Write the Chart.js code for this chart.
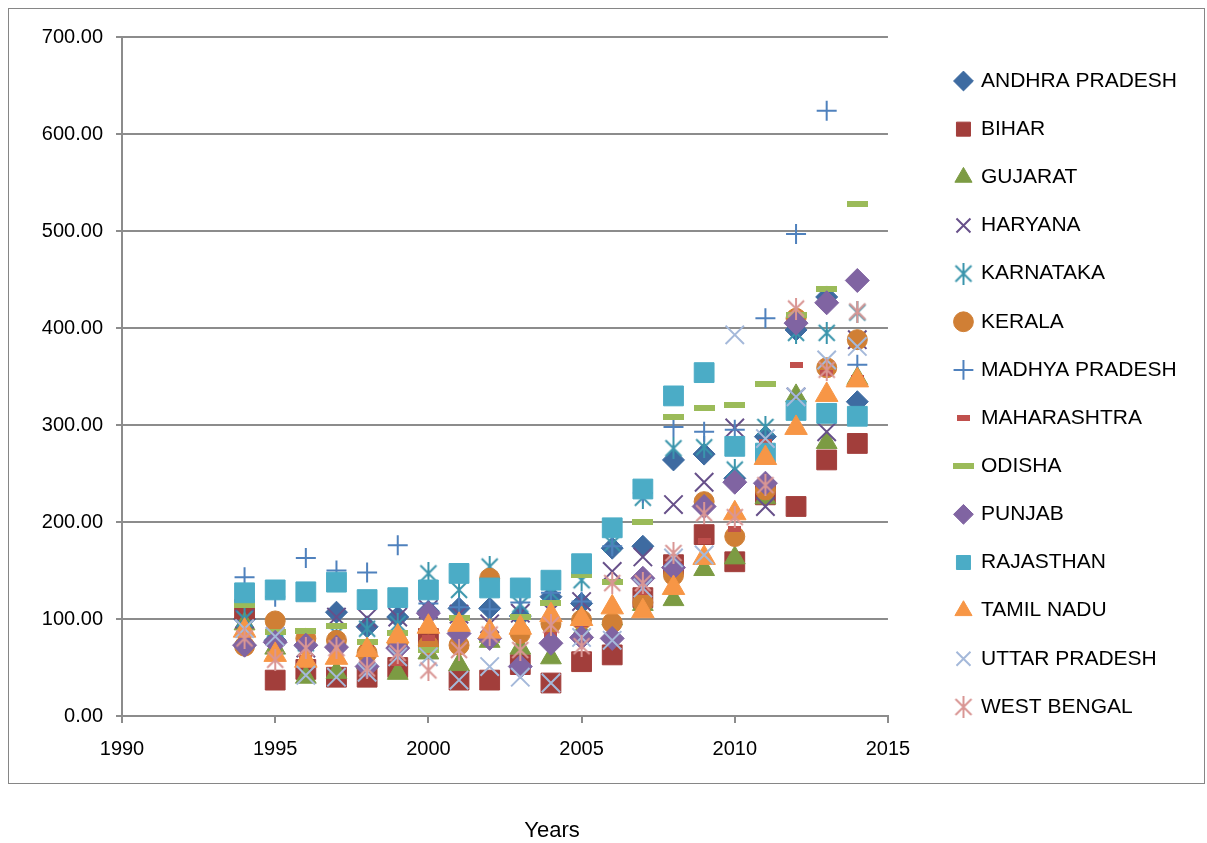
<!DOCTYPE html>
<html>
<head>
<meta charset="utf-8">
<title>States - Years</title>
<script src="https://cdn.jsdelivr.net/npm/chart.js@4"></script>
<style>
  html, body { margin: 0; padding: 0; background: #fff; }
  #wrap { position: relative; width: 1207px; height: 843px; }
</style>
</head>
<body>
<div id="wrap"><canvas id="chart"></canvas></div>
<script>
// years on the x axis
const years = [1994, 1995, 1996, 1997, 1998, 1999, 2000, 2001, 2002, 2003, 2004,
               2005, 2006, 2007, 2008, 2009, 2010, 2011, 2012, 2013, 2014];

// values, one list per state
const andhraPradesh = [100, 78, 72, 107, 92, 102, 108, 111, 111, 103, 123, 116, 173, 175, 264, 270, 245, 288, 398, 432, 324];
const bihar         = [110, 37, 48, 40, 40, 50, 80, 37, 37, 53, 34, 56, 63, 122, 156, 187, 159, 228, 216, 264, 281];
const gujarat       = [95, 70, 40, 45, 55, 44, 65, 53, 77, 70, 60, 87, 100, 115, 120, 151, 163, 225, 330, 282, 348];
const haryana       = [100, 82, 70, 102, 101, 102, 110, 105, 95, 106, 108, 118, 149, 164, 218, 241, 297, 216, 329, 293, 388];
const karnataka     = [100, 90, 75, 85, 90, 95, 147, 130, 154, 115, 127, 140, 178, 225, 276, 277, 254, 298, 395, 395, 416];
const kerala        = [72, 98, 80, 78, 65, 75, 73, 73, 142, 85, 95, 99, 96, 117, 145, 221, 185, 233, 410, 359, 388];
const madhyaPradesh = [143, 123, 163, 150, 148, 176, 116, 112, 110, 117, 127, 118, 175, 230, 298, 293, 295, 410, 497, 624, 362];
const maharashtra   = [84, 75, 60, 65, 70, 55, 80, 90, 85, 88, 84, 95, 111, 128, 150, 180, 193, 282, 362, 354, 348];
const odisha        = [114, 87, 88, 93, 76, 86, 68, 101, 78, 102, 116, 145, 138, 200, 308, 318, 321, 342, 413, 440, 528];
const punjab        = [73, 76, 73, 71, 51, 70, 106, 85, 80, 51, 75, 81, 80, 142, 153, 216, 241, 240, 405, 426, 449];
const rajasthan     = [127, 130, 128, 138, 120, 122, 130, 147, 132, 132, 140, 157, 194, 234, 330, 354, 278, 271, 315, 312, 309];
const tamilNadu     = [88, 63, 57, 60, 68, 82, 92, 94, 87, 91, 104, 100, 112, 108, 132, 163, 209, 266, 297, 331, 346];
const uttarPradesh  = [90, 82, 42, 40, 45, 61, 61, 37, 51, 40, 34, 81, 78, 132, 163, 166, 393, 286, 329, 367, 381];
const westBengal    = [80, 58, 70, 70, 49, 65, 47, 68, 84, 68, 94, 72, 137, 137, 168, 209, 205, 238, 420, 357, 417];

const stateNames = ['ANDHRA PRADESH', 'BIHAR', 'GUJARAT', 'HARYANA', 'KARNATAKA', 'KERALA',
                    'MADHYA PRADESH', 'MAHARASHTRA', 'ODISHA', 'PUNJAB', 'RAJASTHAN',
                    'TAMIL NADU', 'UTTAR PRADESH', 'WEST BENGAL'];
const stateValues = [andhraPradesh, bihar, gujarat, haryana, karnataka, kerala, madhyaPradesh,
                     maharashtra, odisha, punjab, rajasthan, tamilNadu, uttarPradesh, westBengal];

const yTicks = [0, 100, 200, 300, 400, 500, 600, 700];
const xTicks = [1990, 1995, 2000, 2005, 2010, 2015];

// Excel-like marker shapes that Chart.js has no built-in for
function asterisk(color) {
    const c = document.createElement('canvas');
    c.width = 22; c.height = 22;
    const g = c.getContext('2d');
    g.strokeStyle = color;
    g.lineWidth = 2;
    g.beginPath();
    g.moveTo(3, 3); g.lineTo(19, 19);
    g.moveTo(19, 3); g.lineTo(3, 19);
    g.moveTo(11, 0); g.lineTo(11, 22);
    g.stroke();
    return c;
}

function dash(color, w, h) {
    const c = document.createElement('canvas');
    c.width = w; c.height = h;
    const g = c.getContext('2d');
    g.fillStyle = color;
    g.fillRect(0, 0, w, h);
    return c;
}

// marker style for every series (same order as stateNames)
const markers = [
    { style: 'rectRot',  color: '#3E6BA1', radius: 11 },
    { style: 'rect',     color: '#A23E3B', radius: 14 },
    { style: 'triangle', color: '#7C9B43', radius: 12 },
    { style: 'crossRot', color: '#67508A', radius: 13, line: 2 },
    { style: asterisk('#3A95AC'), color: '#3A95AC' },
    { style: 'circle',   color: '#D07F35', radius: 10 },
    { style: 'cross',    color: '#4F81BD', radius: 10, line: 2 },
    { style: dash('#C0504D', 13, 6), color: '#C0504D' },
    { style: dash('#9BBB59', 21, 6), color: '#9BBB59' },
    { style: 'rectRot',  color: '#8064A2', radius: 12 },
    { style: 'rect',     color: '#4BACC6', radius: 14 },
    { style: 'triangle', color: '#F79646', radius: 13 },
    { style: 'crossRot', color: '#A5B9DA', radius: 13, line: 2 },
    { style: asterisk('#D99694'), color: '#D99694' }
];

const datasets = stateNames.map((name, i) => {
    const m = markers[i];
    return {
        label: name,
        data: years.map((yr, j) => ({ x: yr, y: stateValues[i][j] })),
        pointStyle: m.style,
        pointRadius: m.radius || 10,
        pointHoverRadius: m.radius || 10,
        backgroundColor: m.color,
        borderColor: m.color,
        pointBorderWidth: m.line || 1,
        showLine: false,
        order: stateNames.length - i // later states drawn on top, like Excel
    };
});

const frame = {
    id: 'frame',
    beforeDraw(chart) {
        const ctx = chart.ctx;
        ctx.save();
        ctx.fillStyle = '#fff';
        ctx.fillRect(0, 0, chart.width, chart.height);
        ctx.strokeStyle = '#868686';
        ctx.lineWidth = 1;
        ctx.strokeRect(8.5, 8.5, 1196, 775);
        ctx.restore();
    },
    afterDraw(chart) {
        const ctx = chart.ctx;
        ctx.save();
        ctx.fillStyle = '#000';
        ctx.font = '22px "Liberation Sans", Arial, sans-serif';
        ctx.textAlign = 'center';
        ctx.textBaseline = 'middle';
        ctx.fillText('Years', 552, 831);
        ctx.restore();
    }
};

const gridColor = '#8C8C8C';
const tickFont = { family: '"Liberation Sans", Arial, sans-serif', size: 20 };

new Chart(document.getElementById('chart'), {
    type: 'scatter',
    data: { datasets: datasets },
    plugins: [frame],
    options: {
        responsive: true,
        maintainAspectRatio: false,
        animation: false,
        layout: { padding: { top: 37, left: 0, right: 20, bottom: 0 } },
        scales: {
            x: {
                type: 'linear',
                min: 1990,
                max: 2015,
                afterBuildTicks: s => { s.ticks = xTicks.map(v => ({ value: v })); },
                afterFit: s => { s.height = 127; },
                grid: { drawOnChartArea: false, drawTicks: true, tickLength: 7, color: gridColor, lineWidth: 2 },
                border: { color: gridColor, width: 2 },
                ticks: { color: '#000', font: tickFont, padding: 14, callback: v => String(v) }
            },
            y: {
                type: 'linear',
                min: 0,
                max: 700,
                afterBuildTicks: s => { s.ticks = yTicks.map(v => ({ value: v })); },
                afterFit: s => { s.width = 122; },
                grid: { color: gridColor, lineWidth: 2, tickLength: 6 },
                border: { color: gridColor, width: 2 },
                ticks: { color: '#000', font: tickFont, padding: 13, callback: v => v.toFixed(2) }
            },
            // empty space between the plot and the legend
            gap: {
                type: 'linear',
                position: 'right',
                grid: { display: false },
                border: { display: false },
                ticks: { display: false },
                afterFit: s => { s.width = 41.35; }
            }
        },
        plugins: {
            tooltip: { enabled: false },
            legend: {
                position: 'right',
                align: 'start',
                maxWidth: 320,
                title: { display: true, text: '', padding: 0, font: { size: 6.35, lineHeight: 1 } },
                labels: {
                    usePointStyle: true,
                    boxWidth: 14,
                    boxHeight: 14,
                    padding: 27.15,
                    color: '#000',
                    font: { family: '"Liberation Sans", Arial, sans-serif', size: 21 },
                    sort: (a, b) => a.datasetIndex - b.datasetIndex
                }
            }
        }
    }
});
</script>
</body>
</html>
